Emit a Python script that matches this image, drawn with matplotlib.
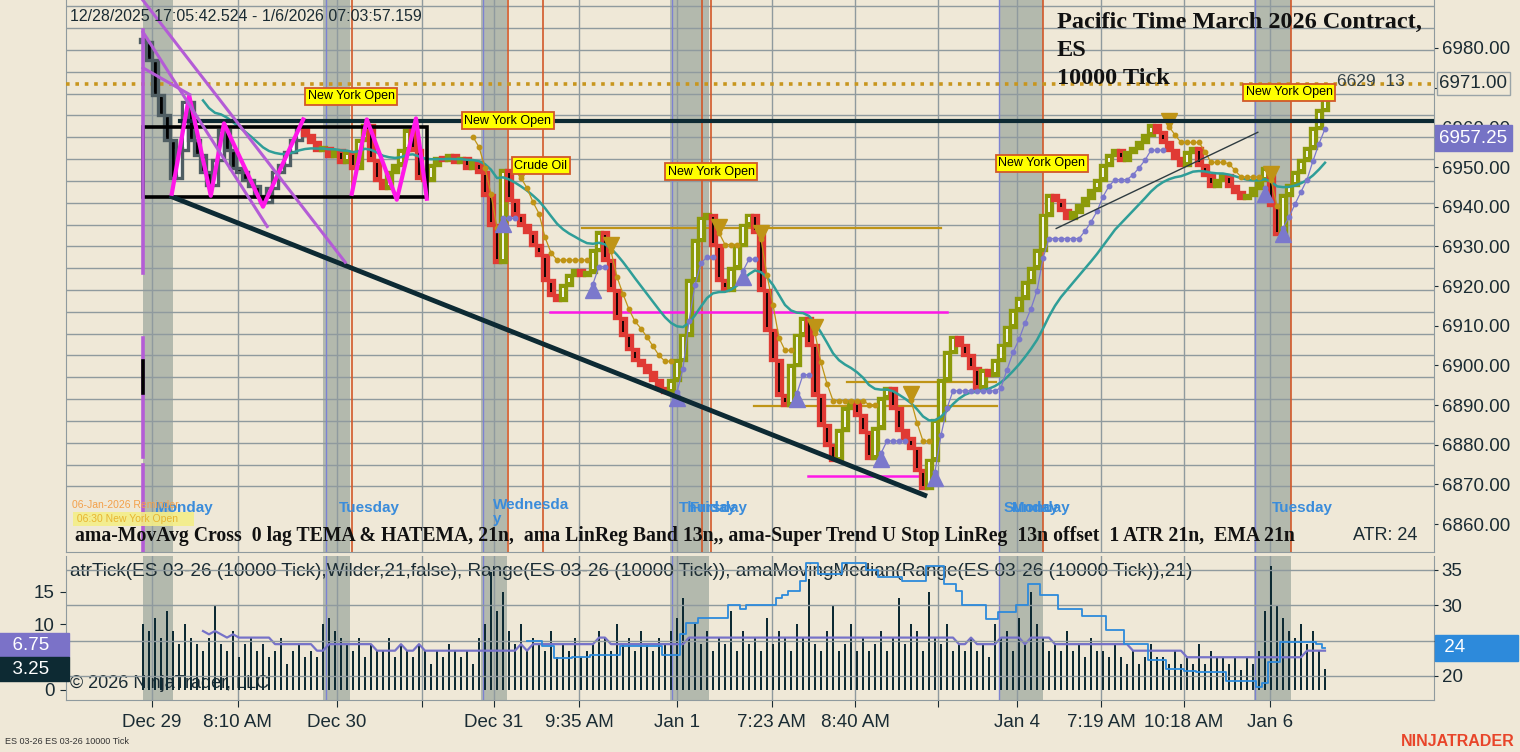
import numpy as np
import pandas as pd
import matplotlib
matplotlib.use('Agg')
import matplotlib.pyplot as plt
from matplotlib.patches import Rectangle
from matplotlib.transforms import blended_transform_factory

# ---- price bars (closes, ES 03-26, 10000 tick) ----
closes = [
    6981.5, 6977.0, 6968.25, 6963.0, 6956.75, 6947.25, 6954.25, 6966.5, 6956.75, 6953.0,
    6948.75, 6945.5, 6951.75, 6959.25, 6954.25, 6949.75, 6948.75, 6946.75, 6945.25, 6942.75,
    6941.25, 6944.75, 6948.75, 6950.5, 6953.75, 6956.75, 6959.75, 6958.0, 6956.25, 6954.25,
    6954.75, 6952.75, 6954.25, 6951.25, 6953.75, 6949.75, 6956.75, 6960.5, 6951.75, 6946.75,
    6944.75, 6948.75, 6950.5, 6954.25, 6959.25, 6954.25, 6947.25, 6946.75, 6950.5, 6952.25,
    6951.75, 6953.0, 6951.25, 6952.25, 6949.75, 6951.25, 6948.75, 6943.0, 6935.5, 6926.0,
    6949.25, 6941.75, 6938.0, 6935.5, 6933.5, 6930.25, 6927.75, 6921.5, 6917.75, 6916.5,
    6920.25, 6922.75, 6924.0, 6922.75, 6923.5, 6929.0, 6933.5, 6926.5, 6919.0, 6912.0,
    6907.75, 6904.0, 6901.25, 6900.0, 6898.25, 6896.25, 6894.25, 6893.25, 6896.25, 6901.25,
    6907.75, 6921.5, 6931.5, 6937.25, 6938.0, 6930.25, 6921.5, 6919.0, 6924.5, 6930.25,
    6935.5, 6938.0, 6933.5, 6919.0, 6909.0, 6901.25, 6892.5, 6890.0, 6900.0, 6907.75,
    6912.0, 6905.25, 6892.5, 6885.0, 6880.0, 6876.25, 6883.75, 6889.25, 6890.75, 6887.5,
    6883.25, 6876.75, 6884.25, 6891.75, 6894.25, 6889.25, 6883.75, 6881.75, 6879.25, 6873.5,
    6869.0, 6876.25, 6886.25, 6896.25, 6903.25, 6907.25, 6905.25, 6902.5, 6899.25, 6894.25,
    6898.75, 6897.5, 6901.25, 6905.25, 6909.75, 6914.0, 6917.0, 6921.0, 6924.5, 6929.0,
    6938.0, 6943.0, 6941.75, 6939.25, 6937.25, 6938.75, 6940.5, 6942.25, 6944.25, 6946.75,
    6950.5, 6953.0, 6954.25, 6951.75, 6953.75, 6954.75, 6956.25, 6958.0, 6960.5, 6958.75,
    6956.25, 6954.25, 6952.25, 6950.5, 6953.75, 6954.75, 6950.5, 6948.0, 6945.25, 6946.75,
    6948.0, 6945.25, 6943.75, 6942.25, 6943.0, 6944.75, 6946.75, 6949.75, 6940.5, 6933.0,
    6943.0, 6945.5, 6948.75, 6951.75, 6954.75, 6959.75, 6964.25, 6968.0,
]

# bar range (points) for the lower panel
ranges = [
    10, 9, 11, 8, 12, 9, 7, 10, 8, 7,
    6, 8, 13, 7, 6, 9, 5, 7, 8, 6,
    7, 5, 6, 8, 4, 6, 7, 5, 6, 5,
    10, 11, 9, 8, 7, 6, 8, 5, 7, 6,
    6, 8, 5, 7, 6, 5, 7, 6, 4, 6,
    5, 7, 6, 5, 6, 4, 8, 10, 18, 12,
    15, 9, 7, 10, 6, 8, 7, 6, 9, 5,
    7, 6, 8, 5, 6, 7, 9, 8, 6, 10,
    7, 8, 6, 9, 7, 6, 8, 7, 9, 11,
    14, 8, 10, 7, 9, 6, 8, 7, 12, 6,
    9, 7, 8, 6, 11, 7, 9, 8, 6, 10,
    8, 17, 7, 6, 9, 13, 6, 7, 10, 6,
    8, 6, 7, 9, 6, 8, 14, 7, 10, 9,
    6, 15, 8, 7, 10, 6, 7, 6, 8, 6,
    7, 5, 10, 8, 9, 6, 11, 7, 15, 10,
    8, 6, 7, 6, 9, 6, 7, 5, 8, 6,
    6, 5, 7, 5, 4, 6, 4, 5, 7, 5,
    5, 4, 6, 4, 5, 4, 7, 4, 6, 5,
    5, 4, 5, 3, 5, 4, 6, 12, 19, 13,
    11, 9, 8, 10, 7, 9, 6, 3.25,
]

# atrTick values (right scale) for the last bars
atr_ticks = [
    25, 25, 25, 24.25, 24.25, 22.5, 22.5, 22.5, 22.75, 22.75, 22.75,
    23, 23, 23, 23, 23, 24.25, 24.25, 24.25, 24.25, 24.25, 24.25, 24.25,
    23, 23, 23, 26, 27.5, 27.5, 28.25, 28.25, 28.25, 28.25, 28.25,
    30, 30, 29.5, 30, 30, 30, 30, 30, 31, 31.5, 32, 32,
    33.5, 36, 36, 34.5, 34.5, 34.5, 34.5, 36, 36, 36, 36,
    35, 35, 34, 34, 34, 34, 33.5, 33.5, 33.5, 33.5, 35.5, 35.5, 35.5,
    33, 33, 32, 30, 30, 30, 30, 28, 28, 29, 29, 29, 30, 30, 33, 33,
    31.5, 31.5, 31.5, 29.5, 29.5, 29.5, 29.5, 28.5, 28.5, 28.5, 28.5,
    26.5, 26.5, 26.5, 24.5, 24.5, 24.5, 24.5, 22.25, 22.25, 22.25,
    21, 21, 21, 20.75, 20.75, 20.5, 20.5, 20.5, 20.5, 20.5,
    19.25, 19.25, 19.25, 19.25, 19.25, 18.5, 19, 22, 22,
    24.75, 24.75, 24.75, 24.75, 24.75, 24.75, 24.5, 24,
]

tick_bars = [1.5, 15.8, 32.3, 46.5, 58.5, 72.7, 89.0, 104.8, 118.7, 132.5, 145.7, 159.7, 173.5, 187.8]
tick_labels = ['Dec 29', '8:10 AM', 'Dec 30', '', 'Dec 31', '9:35 AM', 'Jan 1', '7:23 AM',
               '8:40 AM', '', 'Jan 4', '7:19 AM', '10:18 AM', 'Jan 6']
price_ticks = [6860, 6870, 6880, 6890, 6900, 6910, 6920, 6930, 6940, 6950, 6960, 6970, 6980]

# session shading, session starts, event lines (bar units)
sessions = [(0.0, 5.0), (30.0, 34.5), (56.3, 60.7), (87.8, 94.3), (142.7, 150.0), (185.2, 191.3)]
session_starts = [30.5, 56.7, 88.2, 142.7, 185.3]
event_lines = [34.8, 60.8, 66.7, 93.2, 94.7, 150.0, 191.3]

# drawing objects (bar, price)
zigzag_a_bars = [4.8, 7.7, 11.3, 13.5, 20.0, 26.7]
zigzag_a_prices = [6943.25, 6968.0, 6942.75, 6961.0, 6940.0, 6962.0]
zigzag_b_bars = [34.8, 37.3, 42.3, 45.5, 47.3]
zigzag_b_prices = [6943.25, 6962.0, 6941.75, 6962.25, 6942.0]
fan_lines = [((0, 6992.0), (33.7, 6926.0)), ((0, 6984.0), (20.7, 6935.0)), ((0, 6975.0), (7.8, 6968.25))]
trend_line = ((4.8, 6942.5), (130.3, 6867.25))
thin_line = ((152.2, 6934.5), (185.8, 6958.75))
resistance = 6961.5
dotted_level = 6971.0
stop_value = 6957.25
magenta_levels = [(6913.5, 67.8, 134.0), (6872.0, 110.8, 132.3)]
gold_levels = [(6934.5, 73.2, 133.0), (6895.75, 117.3, 142.2), (6889.75, 101.8, 142.3)]
event_labels = [('New York Open', 34.7, 6967.9), ('New York Open', 60.8, 6961.6),
                ('Crude Oil', 66.3, 6950.3), ('New York Open', 94.7, 6948.75),
                ('New York Open', 149.8, 6951.0), ('New York Open', 191.0, 6968.9)]
day_labels = [('Monday', 2.0), ('Tuesday', 32.7), ('Wednesda\ny', 58.3), ('Thursday', 89.3),
              ('Friday', 91.2), ('Sunday', 143.5), ('Monday', 144.8), ('Tuesday', 188.2)]

BG = '#EFE8D7'
BAND = '#B3B9AD'
GRID = '#8F9A9E'
OLIVE = '#8C9A0A'
RED = '#E03A34'
NAVY = '#0D2A33'
GOLD = '#BF9416'
LILAC = '#7B78CC'
TXT = '#1A2B33'
SANS = 'Liberation Sans'
SERIF = 'Liberation Serif'

plt.rcParams['font.family'] = SANS

c = np.array(closes, dtype=float)
n = len(c)
x = np.arange(n)
o = np.r_[c[0], c[:-1]]
xmin, xmax = -77 / 6.0, 1291 / 6.0

fig = plt.figure(figsize=(15.2, 7.52), dpi=100, facecolor=BG)
ax = fig.add_axes([66 / 1520, 200 / 752, 1368 / 1520, 552 / 752], facecolor=BG)
ax2 = fig.add_axes([66 / 1520, 52 / 752, 1368 / 1520, 144 / 752], facecolor=BG)
ax3 = ax2.twinx()

for a in (ax, ax2):
    a.set_xlim(xmin, xmax)
    for s in a.spines.values():
        s.set_color(GRID)
    a.spines['top'].set_visible(False)
    for lo, hi in sessions:
        a.axvspan(lo, hi, color=BAND, lw=0, zorder=0)
    for b in session_starts:
        a.axvline(b, color='#7C82D2', lw=1, zorder=1)
    a.set_xticks(tick_bars)
    a.grid(axis='x', color=GRID, lw=1, zorder=0.5)
for s in ax3.spines.values():
    s.set_visible(False)

# ---- main price panel ----
ax.set_ylim(6852.95, 6992.1)
for lvl in np.arange(6869.5, 6992, 5.5):
    ax.axhline(lvl, color=GRID, lw=1, zorder=0.5)
for b in event_lines:
    ax.axvline(b, color='#D2582A', lw=1.2, zorder=1)

ax.yaxis.tick_right()
ax.set_yticks(price_ticks)
# 6970 sits under the 6971.00 marker, so its text is left empty
ax.set_yticklabels(['' if v == 6970 else '%.2f' % v for v in price_ticks])
ax.tick_params(axis='y', labelsize=13.5, colors=TXT, length=3, pad=2.5)
ax.tick_params(axis='x', labelbottom=False, length=0)

# candles
lo_b = np.minimum(o, c)
hi_b = np.maximum(o, c)
h = np.maximum(hi_b - lo_b, 0.8)
up = c >= o
face, edge, inner = [], [], []
for i in range(n):
    if i < 27:
        face.append('white' if up[i] else 'black')
        edge.append('#4F5E63')
        inner.append('white' if up[i] else 'black')
    elif up[i]:
        face.append(OLIVE); edge.append(OLIVE); inner.append('white')
    else:
        face.append(RED); edge.append(RED); inner.append('black')
ax.bar(x, h, bottom=lo_b, width=0.85, color=face, edgecolor=edge, linewidth=2.4, zorder=5)
tall = h > 2
ax.vlines(x[tall], lo_b[tall] + 0.7, lo_b[tall] + h[tall] - 0.7,
          colors=[inner[i] for i in x[tall]], lw=1.3, zorder=6)

# EMA 21
ema = pd.Series(c).ewm(span=21, adjust=False).mean().values
ax.plot(x[10:], ema[10:], color='#2F9E98', lw=1.8, zorder=7)

# super trend stop
atr = pd.Series(np.abs(np.diff(c, prepend=c[0]))).ewm(alpha=1 / 13, adjust=False).mean().values
mult = 2.3
start = 55
trend = -1
stop = c[start] + mult * atr[start]
st = np.full(n, np.nan)
tr = np.zeros(n)
flips = []
for i in range(start, n):
    if trend == 1:
        stop = max(stop, c[i] - mult * atr[i])
        if c[i] < stop:
            trend = -1
            stop = c[i] + mult * atr[i]
            flips.append((i, -1, stop))
    else:
        stop = min(stop, c[i] + mult * atr[i])
        if c[i] > stop:
            trend = 1
            stop = c[i] - mult * atr[i]
            flips.append((i, 1, stop))
    st[i] = stop
    tr[i] = trend
ax.plot(x, np.where(tr == 1, st, np.nan), color=LILAC, lw=0.9, marker='o', ms=3.2, zorder=8)
ax.plot(x, np.where(tr == -1, st, np.nan), color=GOLD, lw=0.9, marker='o', ms=3.2, zorder=8)
for i, d, s in flips:
    if d == 1:
        ax.plot(i, s - 1.5, marker='^', ms=11, color=LILAC, zorder=9)
    else:
        ax.plot(i, s + 1.5, marker='v', ms=11, color=GOLD, zorder=9)

# drawing objects
ax.axhline(dotted_level, color='#C8961E', lw=2.6, ls=(0, (1, 1.6)), zorder=3)
ax.plot([6.2, xmax], [resistance, resistance], color=NAVY, lw=3, zorder=10)
ax.add_patch(Rectangle((0, 6942.5), 47.3, 17.5, fill=False, ec='black', lw=2.6, zorder=10))
ax.plot(zigzag_a_bars, zigzag_a_prices, color='#FF17E8', lw=3, zorder=11)
ax.plot(zigzag_b_bars, zigzag_b_prices, color='#FF17E8', lw=3, zorder=11)
for (x0, y0), (x1, y1) in fan_lines:
    ax.plot([x0, x1], [y0, y1], color='#B45CD6', lw=2.2, zorder=11)
ax.plot([0, 0], [6984.5, 6923.25], color='#B45CD6', lw=2.6, zorder=11)
ax.plot([0, 0], [6907.0, 6877.0], color='#B45CD6', lw=2.6, zorder=11)
ax.plot([0, 0], [6875.0, 6852.95], color='#B45CD6', lw=2.6, zorder=11)
ax.plot([0, 0], [6901.0, 6893.0], color='black', lw=2.6, zorder=12)
ax.plot(*zip(*trend_line), color=NAVY, lw=3.5, zorder=10)
ax.plot(*zip(*thin_line), color='#2E3B40', lw=1, zorder=10)
for p, b0, b1 in magenta_levels:
    ax.plot([b0, b1], [p, p], color='#FF17E8', lw=1.8, zorder=4)
for p, b0, b1 in gold_levels:
    ax.plot([b0, b1], [p, p], color=GOLD, lw=1.6, zorder=4)
for txt, b, p in event_labels:
    ax.text(b, p, txt, fontsize=9, ha='center', va='center', color='black', zorder=13,
            bbox=dict(boxstyle='square,pad=0.2', fc='#FFFF00', ec='#D2582A', lw=1.3))
for txt, b in day_labels:
    multi = '\n' in txt
    ax.text(b, 6866.5 if multi else 6864.0, txt, fontsize=11, fontweight='bold',
            color='#3A8CDB', ha='left', va='top' if multi else 'center', zorder=13,
            linespacing=1.0)

# value labels on the price scale
yt = blended_transform_factory(ax.transAxes, ax.transData)
ax.text(1.004, dotted_level, '%.2f' % dotted_level, transform=yt, fontsize=13.5, color=TXT,
        va='center', ha='left', zorder=20, clip_on=False,
        bbox=dict(boxstyle='square,pad=0.15', fc=BG, ec='#9AA4A8', lw=1))
ax.text(1.004, stop_value, '%.2f' % stop_value, transform=yt, fontsize=13.5, color='white',
        va='center', ha='left', zorder=20, clip_on=False,
        bbox=dict(boxstyle='square,pad=0.25', fc='#7673C5', ec='#7673C5'))
ax.text(199.0, 6971.5, '6629  13', fontsize=12.5, color='#33434A', va='center', zorder=13)

ax.text(0.003, 0.971, '12/28/2025 17:05:42.524 - 1/6/2026 07:03:57.159', transform=ax.transAxes,
        fontsize=11.5, color=TXT, va='center', zorder=13)
for k, line in enumerate(['Pacific Time March 2026 Contract,', 'ES', '10000 Tick']):
    ax.text(0.7244, (552 - 22 - 28 * k) / 552, line, transform=ax.transAxes, family=SERIF,
            fontsize=17.5, fontweight='bold', color='#111111', va='center', zorder=13)
ax.text(0.0066, 16 / 552, 'ama-MovAvg Cross  0 lag TEMA & HATEMA, 21n,  ama LinReg Band 13n,, '
        'ama-Super Trend U Stop LinReg  13n offset  1 ATR 21n,  EMA 21n',
        transform=ax.transAxes, family=SERIF, fontsize=14.2, fontweight='bold', color='#111111',
        va='center', zorder=13)
ax.text(0.9408, 16 / 552, 'ATR: 24', transform=ax.transAxes, fontsize=13, color=TXT,
        va='center', zorder=13)
ax.text(0.0045, 47 / 552, '06-Jan-2026 Reminder', transform=ax.transAxes, fontsize=7.5,
        color='#F3A04A', va='center', zorder=13)
ax.text(0.0060, 33 / 552, ' 06:30 New York Open     ', transform=ax.transAxes, fontsize=7.5,
        color='#E8B530', va='center', zorder=13,
        bbox=dict(boxstyle='square,pad=0.15', fc='#F4EE88', ec='none', alpha=0.9))

# ---- lower panel: range, median, atrTick ----
ax2.set_ylim(-1.53, 20.46)
ax3.set_ylim(16.6, 36.98)
ax3.set_xlim(xmin, xmax)
ax2.bar(x, ranges, width=0.32, color=NAVY, zorder=4)
med = pd.Series(ranges, dtype=float).rolling(21, min_periods=11).median()
ax2.plot(x, med, color='#7672C8', lw=1.6, zorder=5)
atr_x = np.arange(n - len(atr_ticks), n)
ax3.plot(atr_x, atr_ticks, color='#2D8ADB', lw=1.3, drawstyle='steps-mid', zorder=5)
for v in (20, 25, 30, 35):
    ax3.axhline(v, color=GRID, lw=1, zorder=0.5)

ax2.set_yticks([0, 10, 15])
ax2.tick_params(axis='y', labelsize=13.5, colors=TXT, length=4, pad=4)
ax3.set_yticks([20, 25, 30, 35])
ax3.set_yticklabels(['20', '', '30', '35'])
ax3.tick_params(axis='y', labelsize=13.5, colors=TXT, length=3, pad=2.5)
ax2.set_xticklabels(tick_labels)
ax2.tick_params(axis='x', labelsize=13.5, colors=TXT, length=5, pad=5)

ax2.text(0.003, 0.889, 'atrTick(ES 03-26 (10000 Tick),Wilder,21,false), Range(ES 03-26 (10000 Tick)), '
         'amaMovingMedian(Range(ES 03-26 (10000 Tick)),21)', transform=ax2.transAxes,
         fontsize=13.7, color=TXT, va='center', zorder=6)
ax2.text(0.003, 0.118, '\u00a9 2026 NinjaTrader, LLC', transform=ax2.transAxes, fontsize=13,
         color=TXT, va='center', zorder=3)

yt3 = blended_transform_factory(ax3.transAxes, ax3.transData)
ax3.text(1.004, atr_ticks[-1], ' %d         ' % atr_ticks[-1], transform=yt3, fontsize=13.5,
         color='white', va='center', ha='left', zorder=20, clip_on=False,
         bbox=dict(boxstyle='square,pad=0.25', fc='#2D8ADB', ec='#2D8ADB'))
fig.text(2 / 1520, 1 - 645 / 752, '  6.75   ', fontsize=13.5, color='white', va='center',
         bbox=dict(boxstyle='square,pad=0.2', fc='#7B72C8', ec='#7B72C8'))
fig.text(2 / 1520, 1 - 669 / 752, '  %.2f   ' % ranges[-1], fontsize=13.5, color='white',
         va='center', bbox=dict(boxstyle='square,pad=0.2', fc=NAVY, ec=NAVY))

fig.text(5 / 1520, 1 - 742 / 752, 'ES 03-26 ES 03-26 10000 Tick', fontsize=6.5, color='#333333',
         va='center')
fig.text(1515 / 1520, 1 - 742 / 752, 'NINJATRADER', fontsize=11.5, fontweight='bold',
         color='#E8452A', va='center', ha='right')

fig.savefig('out.png', dpi=100, facecolor=BG)
